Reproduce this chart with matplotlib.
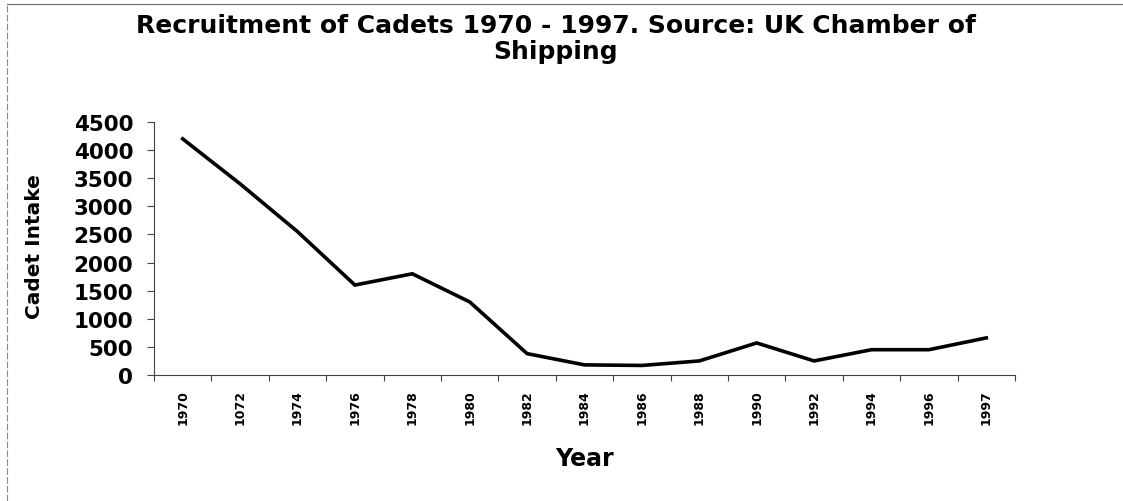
import matplotlib
matplotlib.use("Agg")
import matplotlib.pyplot as plt
from matplotlib.lines import Line2D
import numpy as np

# Cadet intake per year
years = ["1970", "1072", "1974", "1976", "1978", "1980", "1982", "1984",
         "1986", "1988", "1990", "1992", "1994", "1996", "1997"]
intake = [4200, 3400, 2550, 1600, 1800, 1300, 380, 180,
          170, 250, 570, 250, 450, 450, 660]
y_ticks = [0, 500, 1000, 1500, 2000, 2500, 3000, 3500, 4000, 4500]

fig = plt.figure(figsize=(11.23, 5.02), dpi=100)
ax = fig.add_axes([154 / 1123, 1 - 376 / 502, 861 / 1123, 253 / 502])

x = np.arange(len(years))
ax.plot(x, intake, color="black", linewidth=2.6, solid_joinstyle="miter")

ax.set_xlim(-0.5, len(years) - 0.5)
ax.set_ylim(0, 4500)

# category labels in the middle, tick marks on the boundaries
ax.set_xticks(x)
ax.set_xticklabels(years, rotation=90, fontsize=9, fontweight="bold")
ax.tick_params(axis="x", which="major", length=0, pad=10)
ax.set_xticks(np.arange(-0.5, len(years)), minor=True)
ax.tick_params(axis="x", which="minor", length=4, width=0.8, color="#444444")

ax.set_yticks(y_ticks)
ax.set_yticklabels([str(v) for v in y_ticks], fontsize=15.5, fontweight="bold")
ax.tick_params(axis="y", length=5, width=0.8, color="#444444", pad=10)

for side in ["top", "right"]:
    ax.spines[side].set_visible(False)
for side in ["left", "bottom"]:
    ax.spines[side].set_color("#444444")
    ax.spines[side].set_linewidth(0.8)

ax.set_xlabel("Year", fontsize=17, fontweight="bold", labelpad=16)
fig.text(35 / 1123, 1 - 247 / 502, "Cadet Intake", rotation=90, fontsize=14.5,
         fontweight="bold", ha="center", va="center")

fig.text(556 / 1123, 1 - 39 / 502,
         "Recruitment of Cadets 1970 - 1997. Source: UK Chamber of\nShipping",
         fontsize=18, fontweight="bold", ha="center", va="center",
         linespacing=1.1)

# frame around the chart area
fig.add_artist(Line2D([7 / 1123, 1], [1 - 5 / 502, 1 - 5 / 502],
                      color="#666666", linewidth=0.8, transform=fig.transFigure))
fig.add_artist(Line2D([7 / 1123, 7 / 1123], [0, 1 - 5 / 502],
                      color="#888888", linewidth=0.8, linestyle=(0, (6, 2)),
                      transform=fig.transFigure))

fig.savefig("out.png", dpi=100)
